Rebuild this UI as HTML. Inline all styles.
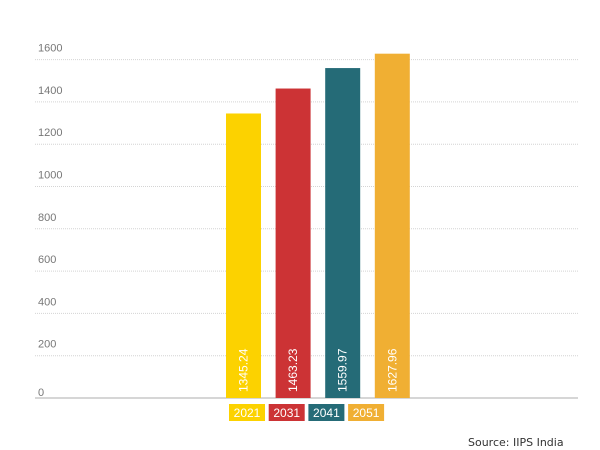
<!DOCTYPE html>
<html><head><meta charset="utf-8"><style>
body{margin:0;background:#fff;width:600px;height:450px;overflow:hidden}
svg{display:block}
</style></head><body>
<svg id="chart" width="600" height="450">
<g id="grid"></g><g id="bars"></g><g id="legend"></g>
<text x="468" y="446" font-family="DejaVu Sans, sans-serif" font-size="11" fill="#333">Source: IIPS India</text>
</svg>
<script>
const categories=["2021","2031","2041","2051"];
const values=[1345.24,1463.23,1559.97,1627.96];
const valueLabels=["1345.24","1463.23","1559.97","1627.96"];
const ticks=[0,200,400,600,800,1000,1200,1400,1600];
const colors=["#fcd200","#cc3335","#256b77","#f0af33"];
const NS="http://www.w3.org/2000/svg";
const y0=398, ppu=42.3/200;
const y=v=>y0-v*ppu;
const x=i=>226+i*49.6;
function mk(t,a,p){const e=document.createElementNS(NS,t);for(const k in a)e.setAttribute(k,a[k]);p.appendChild(e);return e;}
const grid=document.getElementById('grid'),bars=document.getElementById('bars'),leg=document.getElementById('legend');
ticks.forEach(t=>{
  const l=mk('line',{x1:35,x2:578,y1:y(t),y2:y(t),stroke:t===0?'#c8c8c8':'#d4d4d4','stroke-width':t===0?1.5:1,'stroke-dasharray':t===0?'':'1,1'},grid);
  
  
  const tx=mk('text',{x:38,y:y(t)-(t===0?2:8)+ (t===0?0:0),'font-family':'Liberation Sans Narrow, Liberation Sans, sans-serif','font-size':11,fill:'#777'},grid);
  tx.textContent=t;
  
  
});
categories.forEach((c,i)=>{
  const r=mk('rect',{x:x(i),y:y(values[i]),width:35,height:y0-y(values[i]),fill:colors[i]},bars);
  
  
  const cx=x(i)+17.5+4;
  const t=mk('text',{x:cx,y:392,transform:`rotate(-90 ${cx} 392)`,'font-family':'Liberation Sans Narrow, Liberation Sans, sans-serif','font-size':12,fill:'#fff'},bars);
  t.textContent=valueLabels[i];
  
  
  const lx=229+i*39.7;
  const lr=mk('rect',{x:lx,y:404,width:36,height:17,fill:colors[i]},leg);
  
  
  const lt=mk('text',{x:lx+18,y:417,'text-anchor':'middle','font-family':'Liberation Sans Narrow, Liberation Sans, sans-serif','font-size':12,fill:'#fff'},leg);
  lt.textContent=c;
  
  
});
</script>
</body></html>
